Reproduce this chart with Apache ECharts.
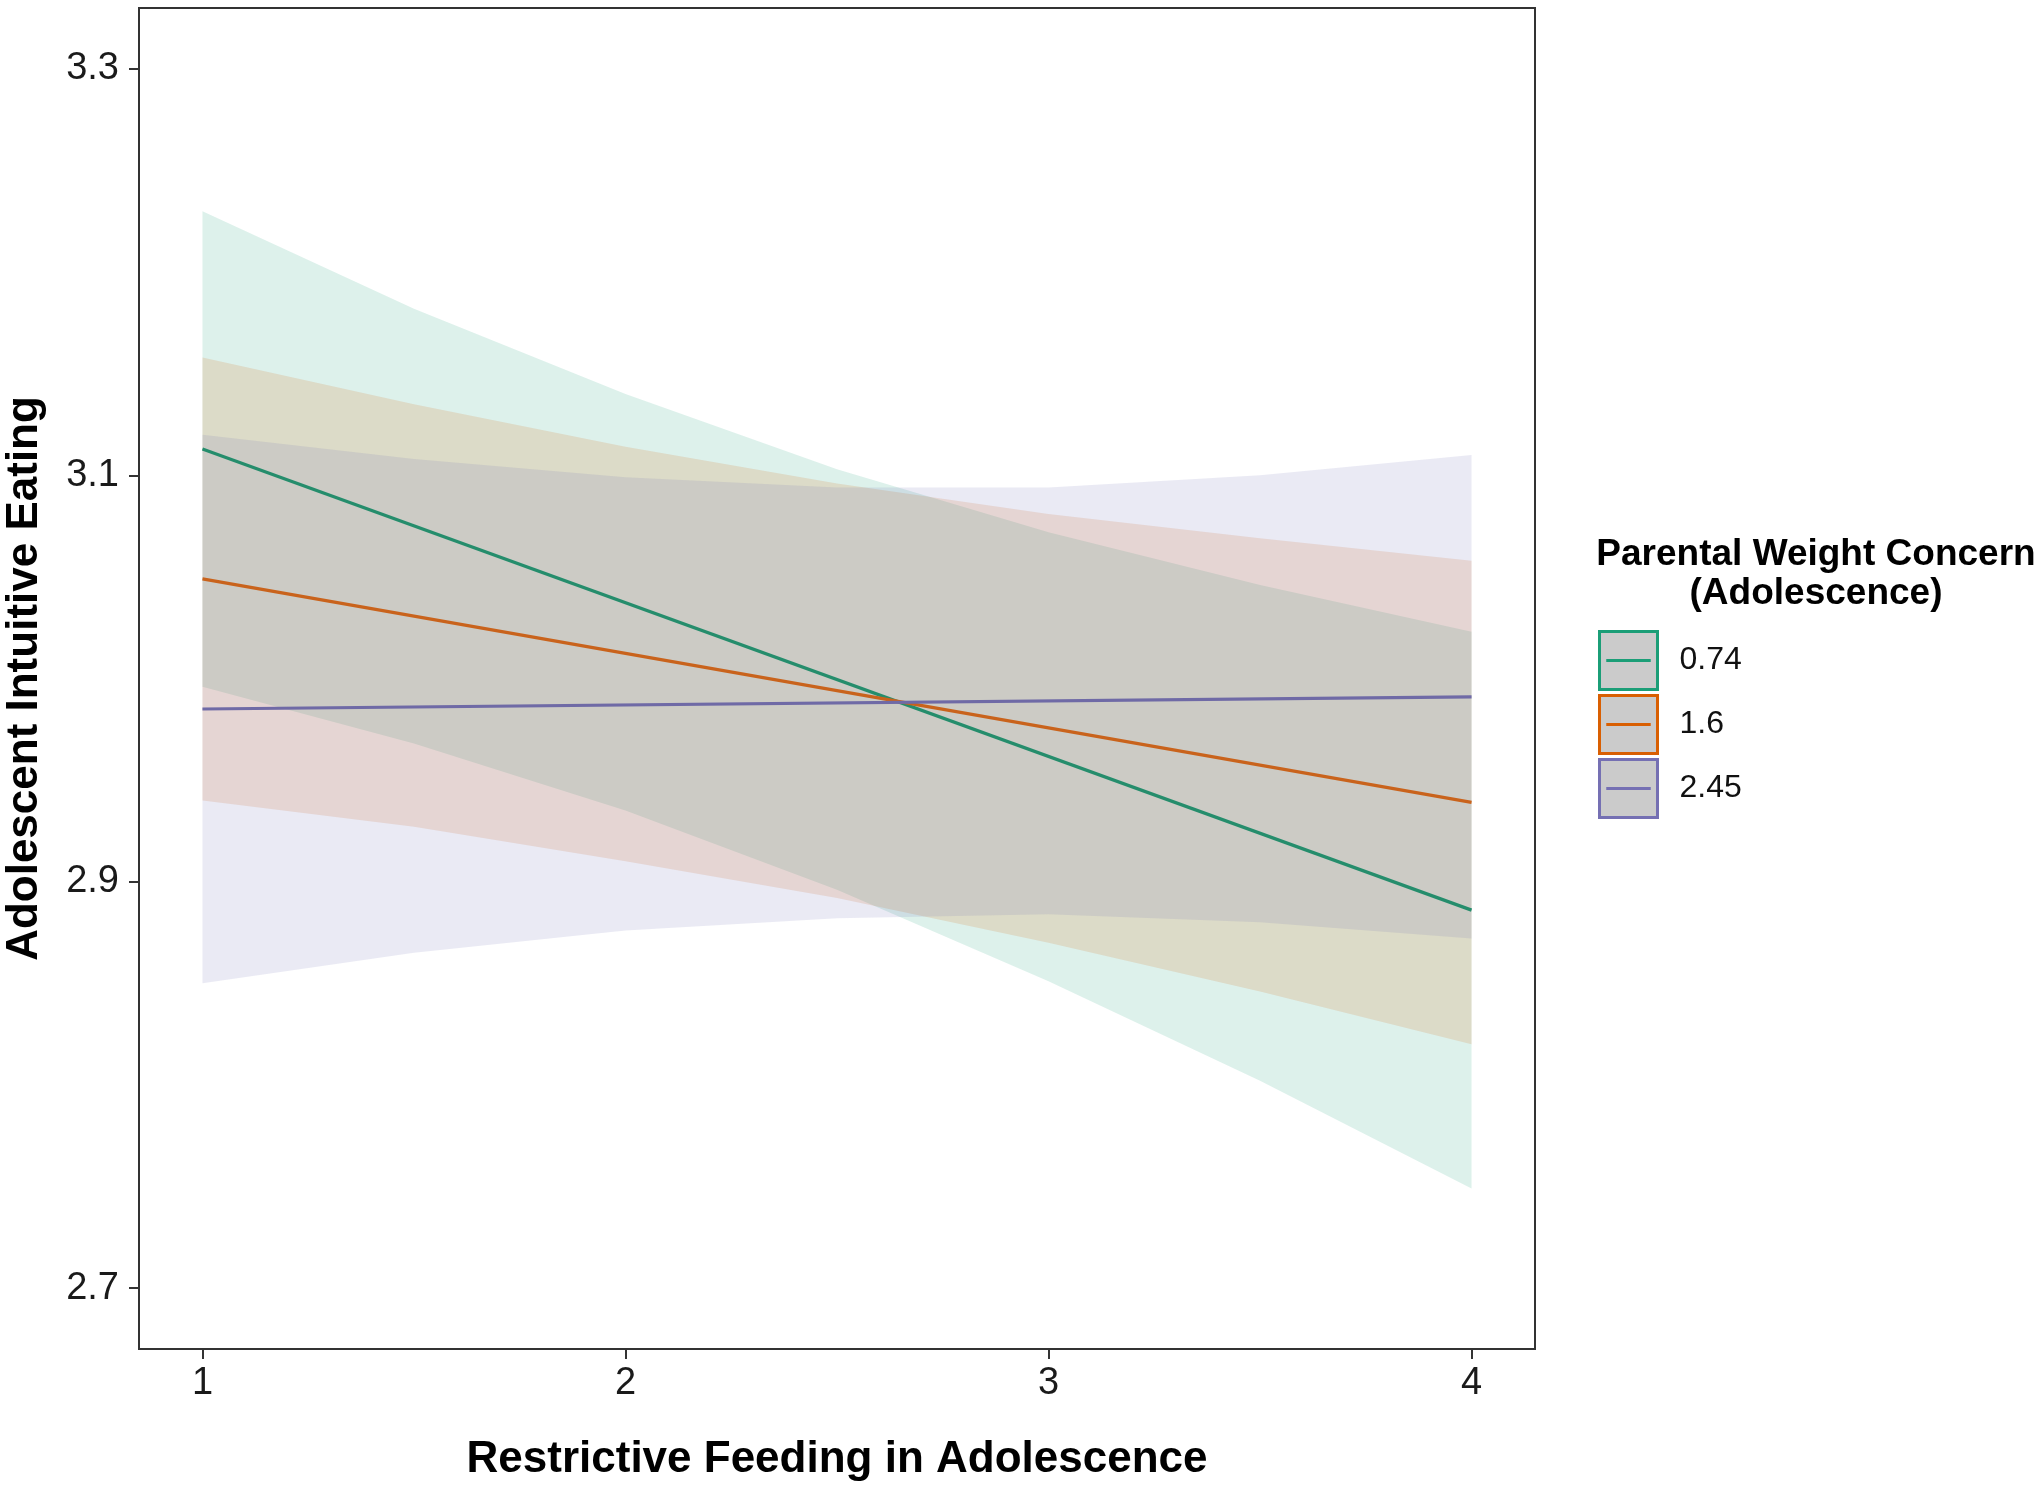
<!DOCTYPE html>
<html>
<head>
<meta charset="utf-8">
<script src="https://cdn.jsdelivr.net/npm/echarts@6/dist/echarts.min.js"></script>
<style>
  html, body { margin: 0; padding: 0; background: #ffffff; }
  #chart { width: 2040px; height: 1489px; }
</style>
</head>
<body>
<div id="chart"></div>
<script>
// ---- data ----
const xTicks = [1, 2, 3, 4];
const yTicks = [2.7, 2.9, 3.1, 3.3];
const groupNames = ['0.74', '1.6', '2.45'];

// fitted lines (endpoints at x = 1 and x = 4)
const lineX = [1, 4];
const lineLow = [3.113, 2.886];   // 0.74
const lineMid = [3.049, 2.939];   // 1.6
const lineHigh = [2.985, 2.991];  // 2.45

// confidence bands
const bandX = [1, 1.5, 2, 2.5, 3, 3.5, 4];
const lowLower  = [2.996, 2.968, 2.935, 2.896, 2.851, 2.802, 2.749];
const lowUpper  = [3.230, 3.182, 3.140, 3.103, 3.072, 3.046, 3.023];
const midLower  = [2.940, 2.927, 2.910, 2.892, 2.870, 2.846, 2.820];
const midUpper  = [3.158, 3.135, 3.114, 3.096, 3.081, 3.069, 3.058];
const highLower = [2.850, 2.865, 2.876, 2.882, 2.884, 2.880, 2.872];
const highUpper = [3.120, 3.108, 3.099, 3.094, 3.094, 3.100, 3.110];

// ---- styling ----
const FONT = '"Liberation Sans", Arial, sans-serif';
const palette = ['#1B9E77', '#D95F02', '#7570B3'];
const lineColors = ['#258d6c', '#c9631c', '#6f6aa6'];
const bandFills = ['rgba(27,158,119,0.15)', 'rgba(217,95,2,0.15)', 'rgba(117,112,179,0.15)'];

const chart = echarts.init(document.getElementById('chart'), null, { renderer: 'canvas' });

function bandSeries(name, lower, upper, fill) {
  return {
    type: 'custom',
    name: name,
    z: 1,
    silent: true,
    data: bandX.map((x, i) => [x, lower[i], upper[i]]),
    encode: { x: 0, y: [1, 2] },
    renderItem: function (params, api) {
      if (params.dataIndex !== 0) return null;
      const pts = [];
      for (let i = 0; i < bandX.length; i++) pts.push(api.coord([bandX[i], upper[i]]));
      for (let i = bandX.length - 1; i >= 0; i--) pts.push(api.coord([bandX[i], lower[i]]));
      return { type: 'polygon', shape: { points: pts }, style: { fill: fill } };
    }
  };
}

function lineSeries(name, ys, color) {
  return {
    type: 'line',
    name: name,
    z: 5,
    data: lineX.map((x, i) => [x, ys[i]]),
    symbol: 'none',
    silent: true,
    lineStyle: { color: color, width: 3.2 },
    itemStyle: { color: color }
  };
}

const axisFont = { fontSize: 38, color: '#1a1a1a', fontFamily: FONT };
const tickStyle = { color: '#333', width: 2 };

const option = {
  backgroundColor: '#ffffff',
  animation: false,
  grid: {
    left: 139, top: 8, right: 505, bottom: 140,
    containLabel: false,
    outerBoundsMode: 'none',
    show: true, borderColor: '#333', borderWidth: 2, backgroundColor: 'transparent'
  },
  xAxis: {
    type: 'value', min: 0.85, max: 4.15,
    axisLine: { show: false },
    splitLine: { show: false },
    axisTick: { show: true, length: 10, lineStyle: tickStyle, customValues: xTicks },
    axisLabel: Object.assign({ customValues: xTicks, margin: 16, formatter: v => String(v) }, axisFont),
    name: 'Restrictive Feeding in Adolescence',
    nameLocation: 'middle',
    nameGap: 89,
    nameTextStyle: { fontSize: 44, fontWeight: 'bold', color: '#000', fontFamily: FONT }
  },
  yAxis: {
    type: 'value', min: 2.67, max: 3.33,
    axisLine: { show: false },
    splitLine: { show: false },
    axisTick: { show: true, length: 10, lineStyle: tickStyle, customValues: yTicks },
    axisLabel: Object.assign({ customValues: yTicks, margin: 20, formatter: v => v.toFixed(1) }, axisFont),
    name: 'Adolescent Intuitive Eating',
    nameLocation: 'middle',
    nameGap: 92,
    nameTextStyle: { fontSize: 44, fontWeight: 'bold', color: '#000', fontFamily: FONT }
  },
  legend: {
    orient: 'vertical',
    left: 1598, top: 630,
    padding: 0,
    itemWidth: 58, itemHeight: 58, itemGap: 3,
    selectedMode: false,
    icon: 'path://M0,0L60,0L60,60L0,60Z M7,30L53,30',
    textStyle: { fontSize: 32, color: '#111', fontFamily: FONT, padding: [0, 0, 0, 17] },
    data: groupNames.map((n, i) => ({
      name: n,
      itemStyle: { color: '#cbcbcb', borderColor: palette[i], borderWidth: 3 }
    }))
  },
  graphic: [{
    type: 'text',
    x: 1816, y: 574,
    silent: true,
    style: {
      text: 'Parental Weight Concern\n(Adolescence)',
      textAlign: 'center',
      textVerticalAlign: 'middle',
      font: 'bold 37px ' + FONT,
      lineHeight: 39,
      fill: '#000'
    }
  }],
  series: [
    bandSeries('band ' + groupNames[0], lowLower, lowUpper, bandFills[0]),
    bandSeries('band ' + groupNames[1], midLower, midUpper, bandFills[1]),
    bandSeries('band ' + groupNames[2], highLower, highUpper, bandFills[2]),
    lineSeries(groupNames[0], lineLow, lineColors[0]),
    lineSeries(groupNames[1], lineMid, lineColors[1]),
    lineSeries(groupNames[2], lineHigh, lineColors[2])
  ]
};

chart.setOption(option);
</script>
</body>
</html>
